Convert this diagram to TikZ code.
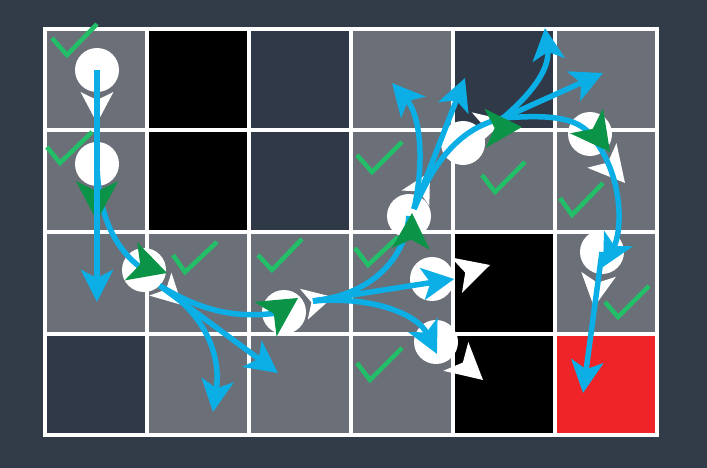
\documentclass[tikz,border=0pt]{standalone}
\usetikzlibrary{arrows.meta}
\definecolor{Slate}{HTML}{323C49}
\definecolor{Wall}{HTML}{2F3947}
\definecolor{Stone}{HTML}{6B6F78}
\definecolor{Goal}{HTML}{EE2428}
\definecolor{Sky}{HTML}{0BAFE5}
\definecolor{Leaf}{HTML}{0B9447}
\definecolor{Tick}{HTML}{22BE68}
\tikzset{
  state/.style={circle,fill=white,minimum size=44pt,inner sep=0pt},
  move/.style={-{Stealth[length=32pt,width=32pt,inset=8pt]},line width=5.5pt,draw=Sky},
  slide/.style={line width=5.5pt,draw=Sky},
  tick/.style={draw=Tick,line width=4.5pt},
  dart/.pic={\fill (0,0) -- (-1,0.53) -- (-0.74,0) -- (-1,-0.53) -- cycle;}
}
\begin{document}
\begin{tikzpicture}[x=1pt,y=-1pt]
\fill[Slate] (0,0) rectangle (707,468);
% grid world
\fill[Stone] (45,29) rectangle (657,435);
\foreach \cx/\cy/\clr in {1/0/black,1/1/black,4/2/black,4/3/black,2/0/Wall,4/0/Wall,2/1/Wall,0/3/Wall,5/3/Goal}
  \fill[\clr] ({45+102*\cx},{29+101.5*\cy}) rectangle ++(102,101.5);
\foreach \i in {1,...,5} \draw[white,line width=4pt] ({45+102*\i},29) -- ({45+102*\i},435);
\foreach \j in {1,2,3} \draw[white,line width=4pt] (45,{29+101.5*\j}) -- (657,{29+101.5*\j});
\draw[white,line width=4pt] (45,29) rectangle (657,435);
% visited cells
\draw[tick] (52,38) -- (67,55) -- (97,24);
\draw[tick] (47,147) -- (60,163) -- (92,132);
\draw[tick] (173,255) -- (185,272) -- (217,242);
\draw[tick] (258,255) -- (272,270) -- (302,239);
\draw[tick] (355,248) -- (368,265) -- (398,237);
\draw[tick] (357,155) -- (372,172) -- (402,142);
\draw[tick] (482,175) -- (495,192) -- (525,162);
\draw[tick] (560,198) -- (572,215) -- (603,183);
\draw[tick] (605,302) -- (618,317) -- (649,286);
\draw[tick] (357,363) -- (370,380) -- (402,348);
% agent positions
\node[state] (s1) at (97,70) {};
\node[state] (s2) at (97,164) {};
\node[state] (s3) at (144,270) {};
\node[state] (s4) at (284,312) {};
\node[state] (s5) at (409,216) {};
\node[state] (s6) at (463,143) {};
\node[state] (s7) at (590,134) {};
\node[state] (s8) at (602,252) {};
\node[state] (s9) at (432,279) {};
\node[state] (s10) at (436,342) {};
% intended actions
\pic[white,scale=31,rotate=-90] at (97,123) {dart};
\pic[white,scale=30,rotate=-44] at (182,305) {dart};
\pic[white,scale=30,rotate=14] at (333,297) {dart};
\pic[white,scale=30,rotate=61] at (430,172) {dart};
\pic[white,scale=30,rotate=15] at (505,120) {dart};
\pic[white,scale=36,rotate=-50] at (625,183) {dart};
\pic[white,scale=33,rotate=-98] at (594,307) {dart};
\pic[white,scale=35,rotate=17] at (490,265) {dart};
\pic[white,scale=36,rotate=-41] at (483,380) {dart};
% branching points and outcomes
\coordinate (f4) at (313,301);
\coordinate (f5) at (414,209);
\coordinate (f6) at (503,118);
\coordinate (t1) at (97,302);
\coordinate (t3a) at (213,412);
\coordinate (t3b) at (278,373);
\coordinate (t4c) at (437,354);
\coordinate (t5a) at (392,83);
\coordinate (t5b) at (465,78);
\coordinate (t6a) at (545,28);
\coordinate (t6b) at (603,73);
\coordinate (t7) at (603,267);
\coordinate (t8) at (583,393);
\draw[slide] (s2.center) .. controls (98,215) and (115,250) .. (s3.center);
\draw[slide] (s3.south east) .. controls (200,310) and (235,320) .. (s4.center);
\draw[move] (s3.south east) .. controls (200,310) and (222,350) .. (t3a);
\draw[move] (s3.south east) -- (t3b);
\draw[slide] (f4) .. controls (370,295) and (405,260) .. (s5.center);
\draw[move] (f4) -- (s9.east);
\draw[move] (f4) .. controls (375,296) and (418,315) .. (t4c);
\draw[move] (f5) .. controls (425,160) and (420,115) .. (t5a);
\draw[move] (f5) -- (t5b);
\draw[slide] (f5) .. controls (435,160) and (460,128) .. (f6);
\draw[move] (f6) .. controls (530,95) and (550,70) .. (t6a);
\draw[move] (f6) -- (t6b);
\draw[slide] (f6) .. controls (545,115) and (575,116) .. (s7.center);
\draw[move] (s7.center) .. controls (625,175) and (622,232) .. (t7);
\draw[move] (s8.center) -- (t8);
% chosen actions
\pic[Leaf,scale=40,rotate=-90] at (97,221) {dart};
\pic[Leaf,scale=38,rotate=-18] at (167,273) {dart};
\pic[Leaf,scale=39,rotate=33] at (298,298) {dart};
\pic[Leaf,scale=36,rotate=88] at (412,213) {dart};
\pic[Leaf,scale=37,rotate=2] at (522,127) {dart};
\pic[Leaf,scale=39,rotate=-53] at (610,152) {dart};
\draw[move] (s1.center) -- (t1);
\end{tikzpicture}
\end{document}
